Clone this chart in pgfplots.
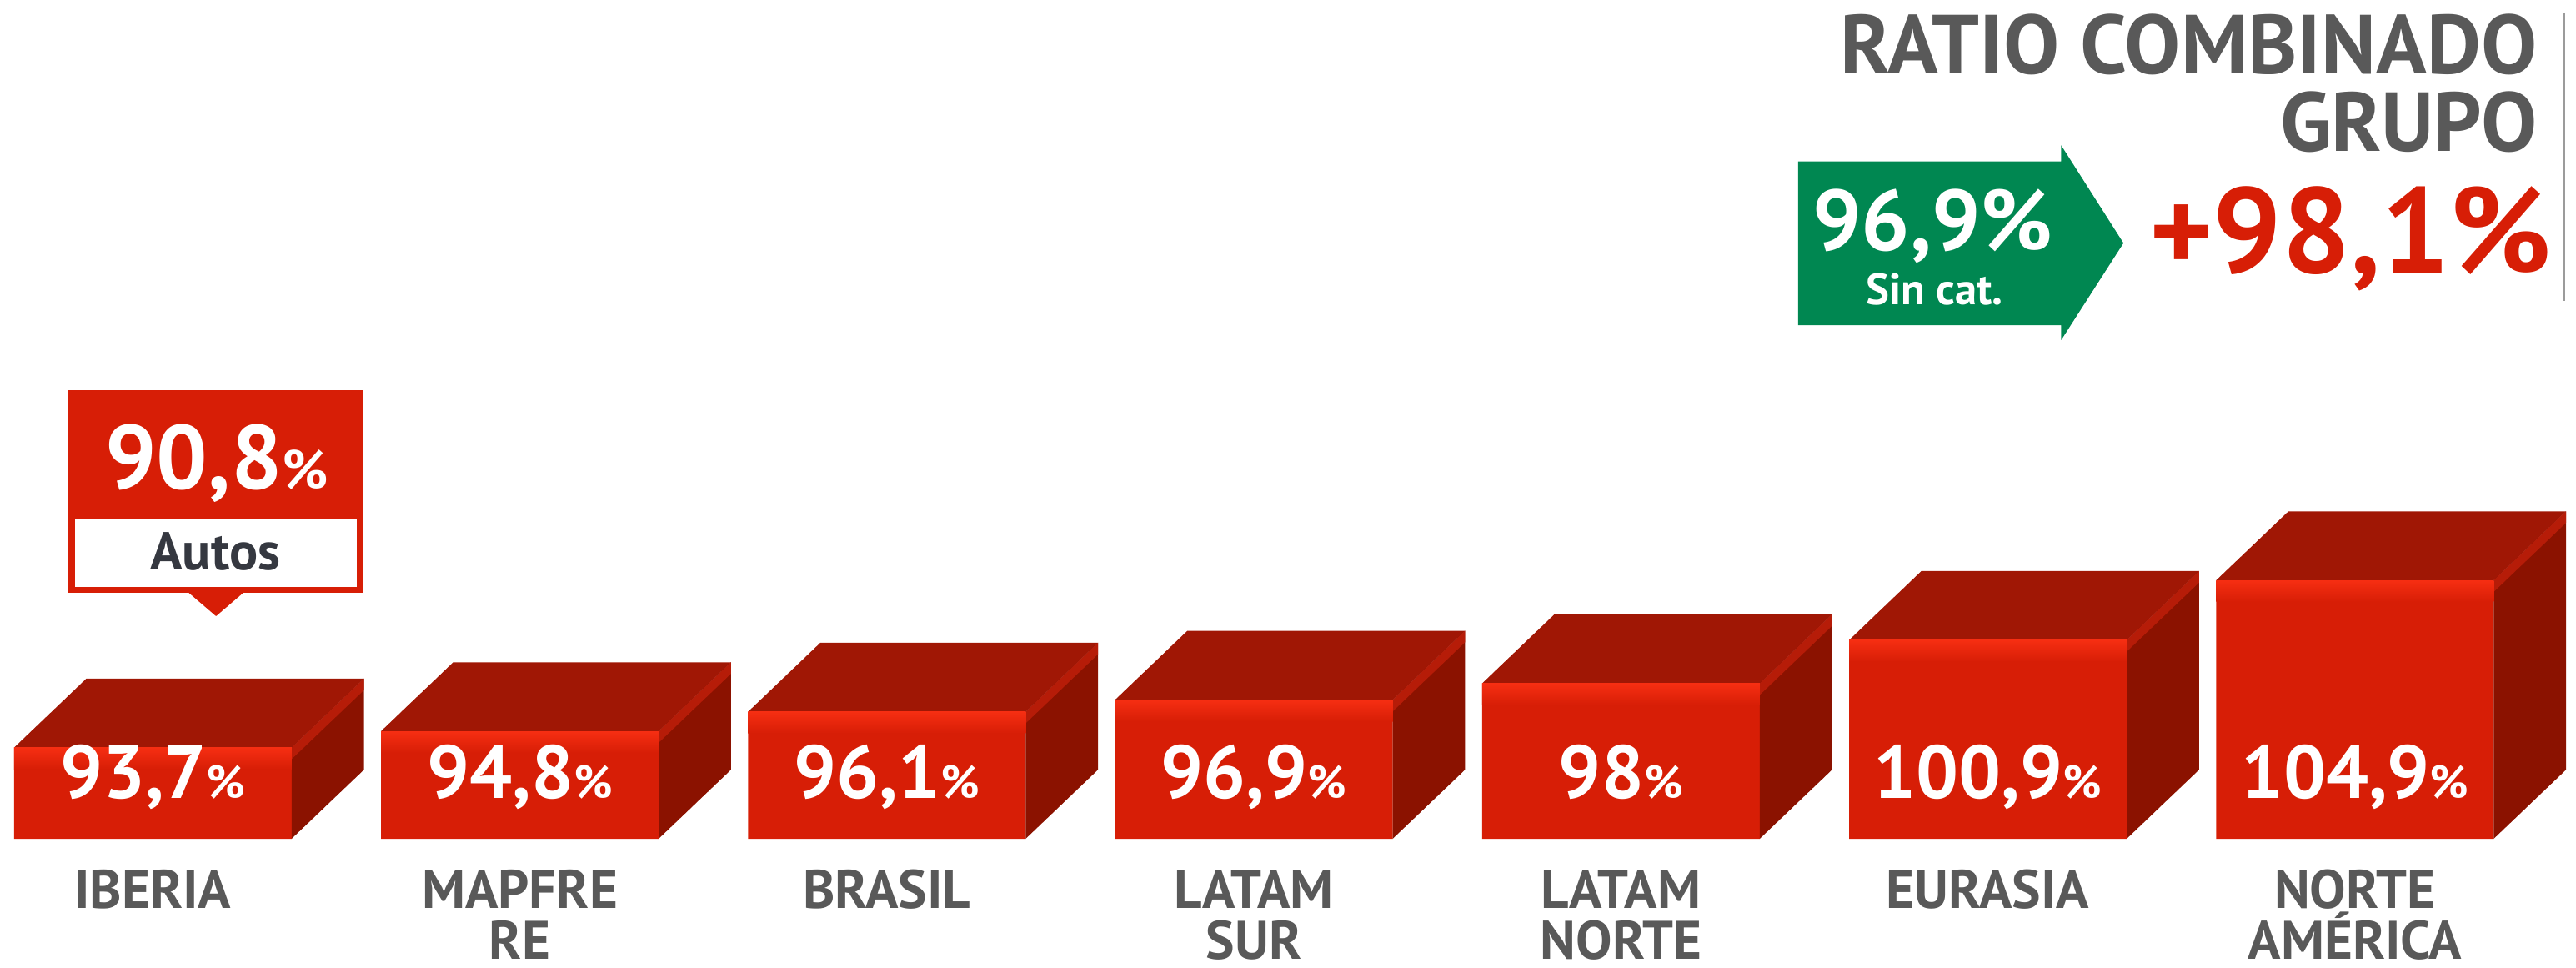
\documentclass[border=0pt]{standalone}
\usepackage{fontspec}
\setmainfont{PT Sans}
\usepackage{pgfplots}
\usepackage{pgfplotstable}
\pgfplotsset{compat=1.18}

\definecolor{FrontRed}{RGB}{215,30,6}
\definecolor{TopRed}{RGB}{160,23,5}
\definecolor{SideRed}{RGB}{139,18,0}
\definecolor{EdgeRed}{RGB}{182,28,8}
\definecolor{HiRed}{RGB}{246,46,18}
\definecolor{LabelGray}{RGB}{89,89,89}
\definecolor{SinCatGreen}{RGB}{0,135,81}
\definecolor{AutosGray}{RGB}{53,56,64}

\pgfdeclareplotmark{blank}{}

% ratio combinado por region (%)
\pgfplotstableread{
x v
0 93.7
1 94.8
2 96.1
3 96.9
4 98.0
5 100.9
6 104.9
}\ratios

\begin{document}
\begin{tikzpicture}
\begin{axis}[
  x=22.34mm, y=0.909mm,
  xmin=-0.4163, xmax=6.6025,
  ymin=-8.636, ymax=56.161,
  axis line style={draw=none},
  major tick length=0pt,
  tick style={draw=none},
  ytick=\empty,
  xtick={0,...,6},
  xticklabels={IBERIA,{MAPFRE\\RE},BRASIL,{LATAM\\SUR},{LATAM\\NORTE},EURASIA,{NORTE\\AMÉRICA}},
  xticklabel style={font=\bfseries\fontsize{9.4}{8.8}\selectfont, text=LabelGray,
    align=center, anchor=north, yshift=7.2mm},
  clip=false,
]
  % front faces (baseline of the bars at 87,6)
  \addplot[ybar, bar width=16.9mm, bar shift=0pt, fill=FrontRed, draw=none]
    table[x=x, y expr=\thisrow{v}-87.6] {\ratios};

  % top and side faces, value labels
  \addplot[scatter, only marks, mark=blank,
    visualization depends on={y \as \yh},
    scatter/@pre marker code/.code={
      \pgfmathsetlengthmacro\barh{\yh*0.909mm}
      \pgfmathsetmacro\vlab{\yh+87.6}
      \fill[TopRed, draw=none] (-8.45mm,0pt) -- (8.45mm,0pt) -- (12.85mm,4.2mm) -- (-4.05mm,4.2mm) -- cycle;
      \fill[SideRed, draw=none] (8.45mm,0pt) -- (12.85mm,4.2mm) -- (12.85mm,{4.2mm-\barh}) -- (8.45mm,{-\barh}) -- cycle;
      \fill[EdgeRed, draw=none] (8.45mm,0pt) -- (12.85mm,4.2mm) -- (12.85mm,3.5mm) -- (8.45mm,-0.7mm) -- cycle;
      \shade[draw=none, top color=HiRed, bottom color=FrontRed] (-8.45mm,0pt) rectangle (8.45mm,-1.3mm);
      \node[anchor=base, inner sep=0pt, draw=none, text=white, font=\bfseries\fontsize{13}{13}\selectfont]
        at (0pt,{2.45mm-\barh})
        {\pgfmathprintnumber[fixed, precision=1, use comma, assume math mode=true]{\vlab}{\fontsize{8}{8}\selectfont\%}};
    },
    scatter/@post marker code/.code={},
  ] table[x=x, y expr=\thisrow{v}-87.6] {\ratios};
\end{axis}

\begin{scope}[shift={(current axis.north west)}, x=0.1mm, y=-0.1mm]
  % titulo
  \node[anchor=base east, inner sep=0pt, text=LabelGray, font=\bfseries\fontsize{14.5}{14.5}\selectfont]
    at (1545,45) {RATIO COMBINADO};
  \node[anchor=base east, inner sep=0pt, text=LabelGray, font=\bfseries\fontsize{14.5}{14.5}\selectfont]
    at (1545,92) {GRUPO};
  \draw[LabelGray!60, line width=0.15mm] (1560.5,7.6) -- (1560.5,183);
  \node[anchor=base east, inner sep=0pt, text=FrontRed, font=\bfseries\fontsize{21}{21}\selectfont]
    at (1554,166) {+98,1\%};
  % flecha verde
  \fill[SinCatGreen] (1094.5,98.3) -- (1254.6,98.3) -- (1254.6,88.5) -- (1292.5,148)
    -- (1254.6,207) -- (1254.6,198) -- (1094.5,198) -- cycle;
  \node[anchor=base, inner sep=0pt, text=white, font=\bfseries\fontsize{14.9}{15}\selectfont]
    at (1176.5,152.5) {96,9\%};
  \node[anchor=base, inner sep=0pt, text=white, font=\bfseries\fontsize{7.6}{8}\selectfont]
    at (1177.5,185.7) {Sin cat.};
  % Autos
  \fill[FrontRed] (41.8,237.6) rectangle (221,361);
  \fill[white] (45.7,316) rectangle (217,357);
  \fill[FrontRed] (114,360) -- (149,360) -- (131.5,375) -- cycle;
  \node[anchor=base, inner sep=0pt, text=white, font=\bfseries\fontsize{15.7}{16}\selectfont]
    at (132,297.7) {90,8{\fontsize{9.5}{9.5}\selectfont\%}};
  \node[anchor=base, inner sep=0pt, text=AutosGray, font=\bfseries\fontsize{9.2}{9.2}\selectfont]
    at (131,346.8) {Autos};
\end{scope}

\pgfresetboundingbox
\path (current axis.south west) rectangle (current axis.north east);
\end{tikzpicture}
\end{document}
